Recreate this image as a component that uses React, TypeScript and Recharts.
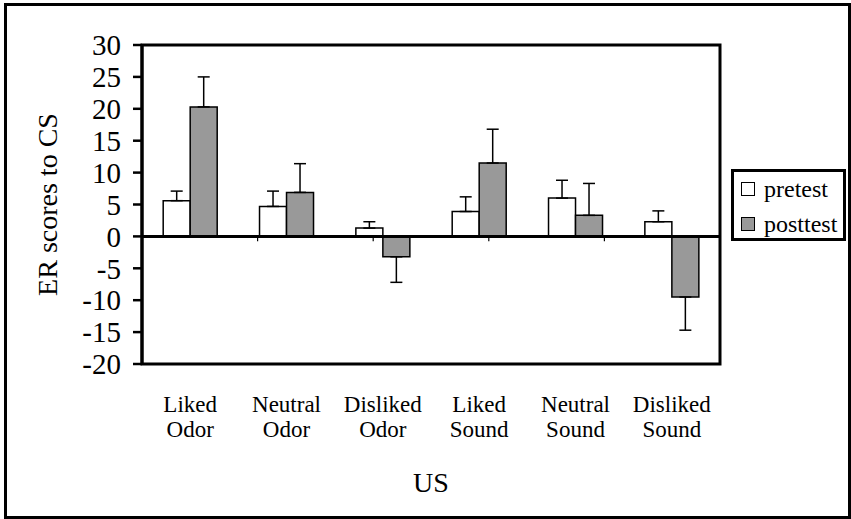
import React from 'react';
import { BarChart, Bar, XAxis, YAxis, ErrorBar, ReferenceLine, ReferenceArea, Legend, Label } from 'recharts';

const categories = ['Liked Odor', 'Neutral Odor', 'Disliked Odor', 'Liked Sound', 'Neutral Sound', 'Disliked Sound'];
const pretest = [5.6, 4.7, 1.3, 3.9, 6.0, 2.3];
const pretestErr = [1.5, 2.4, 1.0, 2.3, 2.8, 1.7];
const posttest = [20.3, 6.9, -3.2, 11.5, 3.3, -9.5];
const posttestErr = [4.7, 4.5, 4.0, 5.3, 5.0, 5.2];
const yTicks = [-20, -15, -10, -5, 0, 5, 10, 15, 20, 25, 30];
const seriesNames = ['pretest', 'posttest'];
const seriesColors: Record<string, string> = { pretest: '#ffffff', posttest: '#999999' };

const FONT = '"Liberation Serif", "Times New Roman", serif';

const oneSided = (v: number, e: number) => (v >= 0 ? [0, e] : [e, 0]);

const data = categories.map((name, i) => ({
  name,
  pretest: pretest[i],
  posttest: posttest[i],
  preErr: oneSided(pretest[i], pretestErr[i]),
  postErr: oneSided(posttest[i], posttestErr[i]),
}));

const boundaries = categories.slice(1).map((_, i) => i + 1);

const CategoryTick = (props: any) => {
  const { x, y, payload } = props;
  const parts = String(payload.value).split(' ');
  return (
    <g>
      <text x={x} y={y + 48} textAnchor="middle" fill="#000" fontSize={23} fontFamily={FONT}>
        {parts[0]}
      </text>
      <text x={x} y={y + 73} textAnchor="middle" fill="#000" fontSize={23} fontFamily={FONT}>
        {parts[1]}
      </text>
    </g>
  );
};

const LegendContent = (props: any) => {
  const payload = [...(props.payload || [])].sort(
    (a: any, b: any) => seriesNames.indexOf(a.value) - seriesNames.indexOf(b.value)
  );
  return (
    <div
      style={{
        position: 'relative',
        width: 115,
        height: 72,
        border: '3px solid #000',
        boxSizing: 'border-box',
        background: '#fff',
        fontFamily: FONT,
      }}
    >
      {payload.map((entry: any, i: number) => (
        <React.Fragment key={entry.value}>
          <div
            style={{
              position: 'absolute',
              left: 7,
              top: 10 + i * 35,
              width: 14,
              height: 14,
              boxSizing: 'border-box',
              border: '1.5px solid #000',
              background: seriesColors[entry.value] || entry.color,
            }}
          />
          <div
            style={{
              position: 'absolute',
              left: 30,
              top: 5 + i * 35,
              fontSize: 24,
              lineHeight: '24px',
              color: '#000',
              whiteSpace: 'nowrap',
            }}
          >
            {entry.value}
          </div>
        </React.Fragment>
      ))}
    </div>
  );
};

export default function App() {
  return (
    <div style={{ position: 'absolute', left: 0, top: 0, width: 851, height: 519, background: '#fff' }}>
      <div
        style={{
          position: 'absolute',
          left: 4,
          top: 3,
          width: 847,
          height: 516,
          border: '3px solid #000',
          boxSizing: 'border-box',
        }}
      />
      <BarChart
        width={851}
        height={519}
        data={data}
        margin={{ top: 45, right: 131, bottom: 45, left: 0 }}
        barCategoryGap="22%"
        barGap={0}
        style={{ position: 'absolute', left: 0, top: 0 }}
      >
        <XAxis
          dataKey="name"
          axisLine={false}
          tickLine={false}
          tickSize={0}
          tickMargin={0}
          interval={0}
          height={110}
          tick={<CategoryTick />}
        >
          <Label
            content={(p: any) => {
              const vb = p.viewBox || { x: 142, y: 364, width: 578 };
              return (
                <text x={vb.x + vb.width / 2} y={vb.y + 128} textAnchor="middle" fill="#000" fontSize={28} fontFamily={FONT}>
                  US
                </text>
              );
            }}
          />
        </XAxis>
        <XAxis xAxisId="b" type="number" domain={[0, 6]} hide />
        <YAxis
          type="number"
          domain={[-20, 30]}
          ticks={yTicks}
          interval={0}
          width={142}
          tickSize={9}
          tickMargin={12}
          axisLine={{ stroke: '#000', strokeWidth: 3 }}
          tickLine={{ stroke: '#000', strokeWidth: 2.5 }}
          tick={{ fill: '#000', fontSize: 29, fontFamily: FONT }}
        >
          <Label
            content={(p: any) => {
              const vb = p.viewBox || { x: 0, y: 45, width: 142, height: 319 };
              const cy = vb.y + vb.height / 2;
              return (
                <text
                  x={56.5}
                  y={cy}
                  transform={`rotate(-90 56.5 ${cy})`}
                  textAnchor="middle"
                  fill="#000"
                  fontSize={28}
                  fontFamily={FONT}
                >
                  ER scores to CS
                </text>
              );
            }}
          />
        </YAxis>
        <ReferenceArea y1={-20} y2={30} fill="none" stroke="#000" strokeWidth={3} />
        <Legend
          layout="horizontal"
          align="center"
          verticalAlign="middle"
          wrapperStyle={{ left: 731, top: 169, width: 115, height: 72 }}
          content={<LegendContent />}
        />
        <Bar dataKey="pretest" name="pretest" fill={seriesColors.pretest} stroke="#000" strokeWidth={1.5} isAnimationActive={false}>
          <ErrorBar dataKey="preErr" width={6} stroke="#000" strokeWidth={1.5} direction="y" />
        </Bar>
        <Bar dataKey="posttest" name="posttest" fill={seriesColors.posttest} stroke="#000" strokeWidth={1.5} isAnimationActive={false}>
          <ErrorBar dataKey="postErr" width={6} stroke="#000" strokeWidth={1.5} direction="y" />
        </Bar>
        <ReferenceLine y={0} stroke="#000" strokeWidth={3} />
        {boundaries.map((b) => (
          <ReferenceLine
            key={b}
            xAxisId="b"
            segment={[
              { x: b, y: 0 },
              { x: b, y: -0.75 },
            ]}
            stroke="#000"
            strokeWidth={1.2}
          />
        ))}
      </BarChart>
    </div>
  );
}
